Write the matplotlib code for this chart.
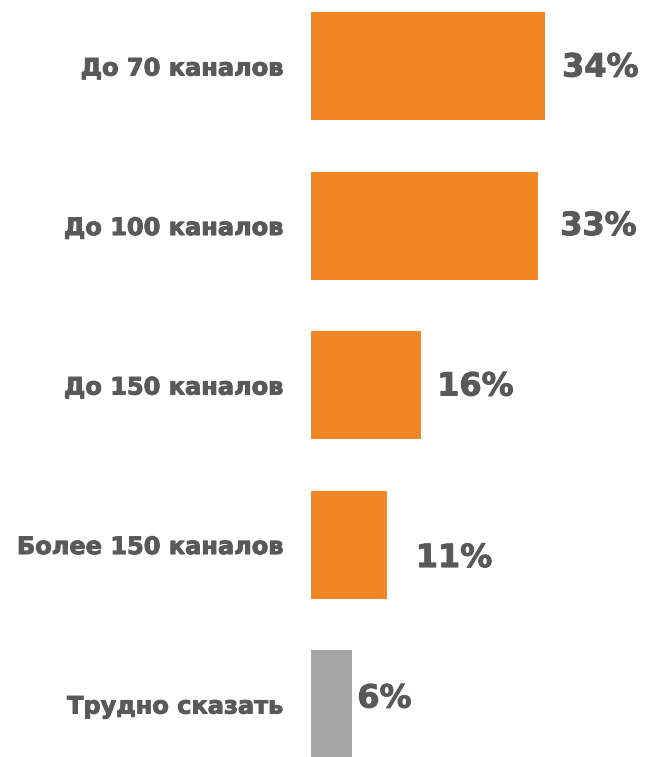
import matplotlib
matplotlib.use("Agg")
import matplotlib.pyplot as plt
import matplotlib.patheffects as pe

categories = ["До 70 каналов", "До 100 каналов", "До 150 каналов",
              "Более 150 каналов", "Трудно сказать"]
values = [34, 33, 16, 11, 6]
value_labels = ["34%", "33%", "16%", "11%", "6%"]

bar_colors = ["#F38624", "#F38624", "#F38624", "#F38624", "#A6A6A6"]
text_color = "#595959"
# label offsets in pixels (dx right, dy down) relative to bar end / bar centre
label_dx = [17, 22, 16, 29, 5]
label_dy = [2, 1, 2, 14, -5]

W, H, DPI = 647, 757, 100
fig = plt.figure(figsize=(W / DPI, H / DPI), dpi=DPI)
ax = fig.add_axes([311 / W, 0, 336 / W, 1])

ypos = list(range(len(categories)))
ax.barh(ypos, values, height=0.677, color=bar_colors, edgecolor="none")
ax.set_xlim(0, 48.8)
ax.set_ylim(4.332, -0.414)

heavy = [pe.withStroke(linewidth=0.7, foreground=text_color)]

ax.set_yticks(ypos)
ax.set_yticklabels(categories, fontsize=17.3, fontweight="bold", color=text_color,
                   family="DejaVu Sans")
for t in ax.get_yticklabels():
    t.set_path_effects(heavy)
ax.tick_params(axis="y", length=0, pad=20.2)
ax.set_xticks([])
for s in ax.spines.values():
    s.set_visible(False)

for i, (v, lab) in enumerate(zip(values, value_labels)):
    ax.annotate(lab, xy=(v, i), xytext=(label_dx[i] * 72 / DPI, -label_dy[i] * 72 / DPI),
                textcoords="offset points", ha="left", va="center",
                fontsize=23, fontweight="bold", color=text_color,
                family="DejaVu Sans", annotation_clip=False,
                path_effects=heavy)

fig.savefig("out.png", dpi=DPI)
